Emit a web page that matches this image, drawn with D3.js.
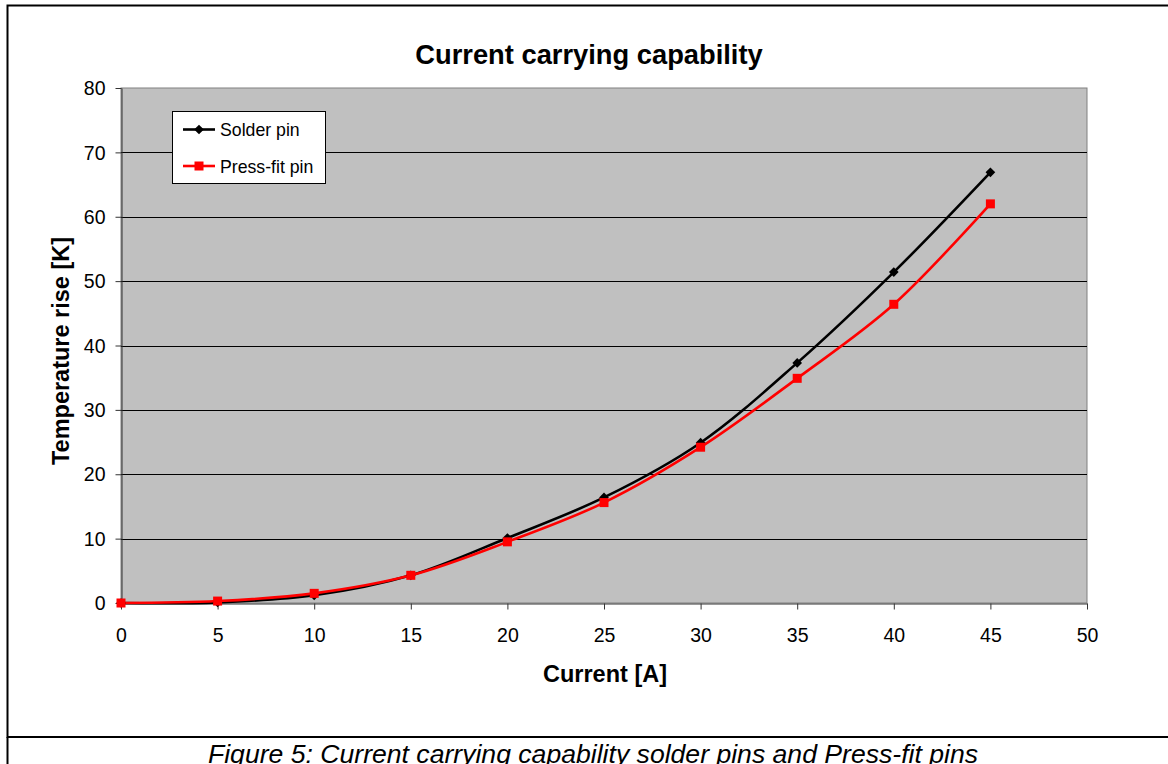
<!DOCTYPE html>
<html><head><meta charset="utf-8">
<script src="https://cdn.jsdelivr.net/npm/d3@7/dist/d3.min.js"></script>
<style>html,body{margin:0;padding:0;background:#fff;overflow:hidden}svg{display:block;font-family:Arial,"Liberation Sans",sans-serif}</style>
</head><body><svg id="c" width="1168" height="764"></svg>
<script>
const currents = [0, 5, 10, 15, 20, 25, 30, 35, 40, 45];
const solderPin = [0, 0.1, 1.2, 4.3, 10.1, 16.4, 24.9, 37.3, 51.4, 66.9];
const pressFitPin = [0, 0.3, 1.5, 4.3, 9.5, 15.6, 24.2, 34.9, 46.4, 62.0];
const xTicks = [0, 5, 10, 15, 20, 25, 30, 35, 40, 45, 50];
const yTicks = [0, 10, 20, 30, 40, 50, 60, 70, 80];
const seriesNames = ["Solder pin", "Press-fit pin"];
const titleText = "Current carrying capability";
const xTitle = "Current [A]";
const yTitle = "Temperature rise [K]";
const captionText = "Figure 5: Current carrying capability solder pins and Press-fit pins";

const FONT = "Arial, 'Liberation Sans', sans-serif";
const svg = d3.select("#c");
// outer frame
svg.append("rect").attr("x", 7.5).attr("y", 5.5).attr("width", 1200).attr("height", 731.5)
  .attr("fill", "none").attr("stroke", "#000").attr("stroke-width", 2);
svg.append("line").attr("x1", 7.5).attr("x2", 7.5).attr("y1", 737).attr("y2", 764).attr("stroke", "#000").attr("stroke-width", 2);

const x = d3.scaleLinear().domain([0, 50]).range([121, 1087]);
const y = d3.scaleLinear().domain([0, 80]).range([603, 88]);

svg.append("rect").attr("x", x(0)).attr("y", y(80)).attr("width", x(50) - x(0)).attr("height", y(0) - y(80))
  .attr("fill", "#c0c0c0").attr("stroke", "#808080").attr("stroke-width", 1);

// gridlines
svg.append("g").selectAll("line").data(yTicks.filter(d => d > 0 && d < 80)).join("line")
  .attr("x1", x(0)).attr("x2", x(50)).attr("y1", d => Math.round(y(d)) + 0.5).attr("y2", d => Math.round(y(d)) + 0.5)
  .attr("stroke", "#000").attr("stroke-width", 1);

const xAxis = svg.append("g").attr("transform", `translate(0,${Math.round(y(0)) + 0.5})`)
  .call(d3.axisBottom(x).tickValues(xTicks).tickSize(6).tickSizeOuter(0));
const yAxis = svg.append("g").attr("transform", `translate(${Math.round(x(0)) + 0.5},0)`)
  .call(d3.axisLeft(y).tickValues(yTicks).tickSize(6).tickSizeOuter(0).tickPadding(10));
[xAxis, yAxis].forEach(a => {
  a.selectAll("path").attr("stroke", "#333").attr("stroke-width", 1);
  a.selectAll("line").attr("stroke", "#333");
  a.selectAll("text").attr("font-size", 19.5).attr("fill", "#000").attr("font-family", FONT);
});
xAxis.selectAll("text").attr("y", 38).attr("dy", 0);
yAxis.selectAll("text").attr("dy", "0.34em");

const line = d3.line().x((d, i) => x(currents[i])).y(d => y(d)).curve(d3.curveCatmullRom.alpha(0.5));

svg.append("path").attr("d", line(solderPin)).attr("fill", "none").attr("stroke", "#000").attr("stroke-width", 2.6);
svg.append("path").attr("d", line(pressFitPin)).attr("fill", "none").attr("stroke", "#ff0000").attr("stroke-width", 2.6);

svg.append("g").selectAll("path").data(solderPin).join("path")
  .attr("d", d3.symbol().type(d3.symbolDiamond2).size(60)())
  .attr("transform", (d, i) => `translate(${x(currents[i])},${y(d)})`).attr("fill", "#000");
svg.append("g").selectAll("rect").data(pressFitPin).join("rect")
  .attr("x", (d, i) => x(currents[i]) - 4.5).attr("y", d => y(d) - 4.5).attr("width", 9).attr("height", 9).attr("fill", "#ff0000");

// legend
const lg = svg.append("g");
lg.append("rect").attr("x", 172.5).attr("y", 111.5).attr("width", 153).attr("height", 72)
  .attr("fill", "#fff").attr("stroke", "#000").attr("stroke-width", 1);
const legendColors = ["#000", "#ff0000"];
seriesNames.forEach((n, i) => {
  const cy = 129.5 + i * 36.5;
  lg.append("line").attr("x1", 183).attr("x2", 215).attr("y1", cy).attr("y2", cy).attr("stroke", legendColors[i]).attr("stroke-width", 2.6);
  if (i === 0) lg.append("path").attr("d", d3.symbol().type(d3.symbolDiamond2).size(60)()).attr("transform", `translate(199,${cy})`).attr("fill", "#000");
  else lg.append("rect").attr("x", 194.5).attr("y", cy - 4.5).attr("width", 9).attr("height", 9).attr("fill", "#ff0000");
  lg.append("text").attr("x", 220).attr("y", cy + 6.5).attr("font-size", 17.7).text(n);
});

svg.append("text").attr("x", 589).attr("y", 64).attr("text-anchor", "middle").attr("font-size", 27.3).attr("font-weight", "bold").text(titleText);
svg.append("text").attr("x", 605).attr("y", 682).attr("text-anchor", "middle").attr("font-size", 23.5).attr("font-weight", "bold").text(xTitle);
svg.append("text").attr("transform", "translate(69,351) rotate(-90)").attr("text-anchor", "middle").attr("font-size", 23.5).attr("font-weight", "bold").text(yTitle);
svg.append("text").attr("x", 593).attr("y", 763).attr("text-anchor", "middle").attr("font-size", 26.6).attr("font-style", "italic").text(captionText);
</script></body></html>
